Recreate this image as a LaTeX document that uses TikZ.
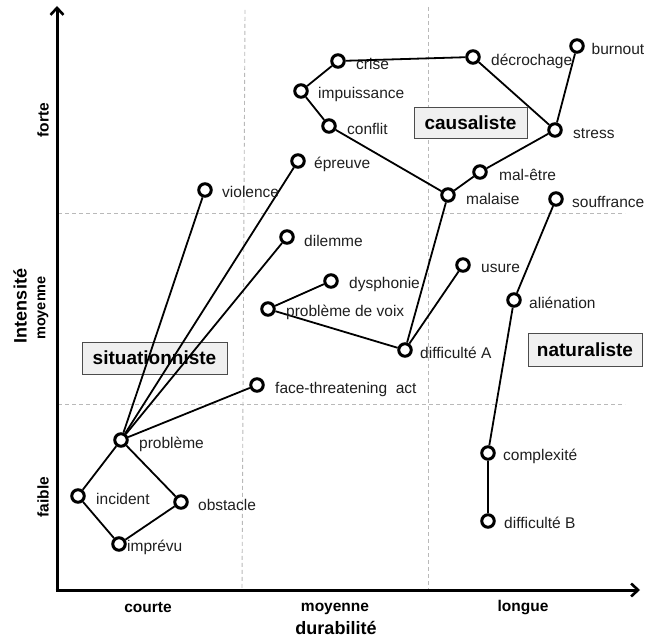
\documentclass[tikz,border=0pt]{standalone}
\usepackage{fontspec}
\setmainfont{Liberation Sans}
\usetikzlibrary{arrows.meta}
\tikzset{
  pt/.style={circle,draw=black,line width=3pt,minimum size=12.5pt,inner sep=0pt,fill=white},
  lbl/.style={anchor=west,inner sep=0pt,text=black!88,font=\fontsize{15.5}{17}\selectfont},
  edge/.style={line width=1.8pt,black},
  grid/.style={draw=gray!55,line width=0.9pt,dash pattern=on 4pt off 3pt},
  axis/.style={line width=3pt,-{Straight Barb[length=7pt,width=13pt,line width=2.6pt]}},
  cat/.style={draw=black!70,fill=gray!12,line width=0.9pt,font=\fontsize{19}{21}\selectfont\bfseries,inner sep=0pt},
  tick/.style={font=\fontsize{15.5}{17}\selectfont\bfseries,inner sep=0pt}
}
\begin{document}
\begin{tikzpicture}[x=1pt,y=-1pt]
\useasboundingbox (0,0) rectangle (645,639);
% grid
\draw[grid] (245,10) -- (242,590);
\draw[grid] (428,7) -- (428,590);
\draw[grid] (58,213) -- (625,213);
\draw[grid] (58,404) -- (625,404);
% axes
\coordinate (O) at (57,590);
\coordinate (Ytop) at (57,6);
\coordinate (Xend) at (640,590);
\draw[axis] ([yshift=-1.5pt]O) -- (Ytop);
\draw[axis] ([xshift=-1.5pt]O) -- (Xend);
% axis labels
\node[tick] (courte) at (148,608) {courte};
\node[tick] (moyx) at (335,609) {moyenne};
\node[tick] (longue) at (523,608) {longue};
\node[tick,font=\fontsize{18}{20}\selectfont\bfseries] (dura) at (336,628) {durabilité};
\node[tick,rotate=90,font=\fontsize{18}{20}\selectfont\bfseries] (inten) at (20,306) {Intensité};
\node[tick,rotate=90,font=\fontsize{14.5}{16}\selectfont\bfseries] (moyy) at (43,308) {moyenne};
\node[tick,rotate=90] (forte) at (43,120) {forte};
\node[tick,rotate=90] (faible) at (43,497) {faible};
% category boxes
\node[cat,minimum width=145pt,minimum height=32pt] (situ) at (154.5,358) {situationniste};
\node[cat,minimum width=113pt,minimum height=31pt] (caus) at (470.5,122.5) {causaliste};
\node[cat,minimum width=114pt,minimum height=33pt] (natu) at (585,349.5) {naturaliste};
% points
\node[pt] (violence) at (205,190) {};
\node[pt] (epreuve) at (298,161) {};
\node[pt] (impuissance) at (301,91) {};
\node[pt] (crise) at (338,61) {};
\node[pt] (conflit) at (329,126) {};
\node[pt] (decrochage) at (473,57) {};
\node[pt] (burnout) at (577,46) {};
\node[pt] (stress) at (555,130) {};
\node[pt] (maletre) at (480,172) {};
\node[pt] (malaise) at (448,195) {};
\node[pt] (souffrance) at (556,199) {};
\node[pt] (dilemme) at (287,237) {};
\node[pt] (dysphonie) at (331,281) {};
\node[pt] (usure) at (463,265) {};
\node[pt] (pvoix) at (268,309) {};
\node[pt] (alienation) at (514,300) {};
\node[pt] (diffA) at (405,350) {};
\node[pt] (fta) at (257,385) {};
\node[pt] (probleme) at (121,440) {};
\node[pt] (incident) at (78,496) {};
\node[pt] (obstacle) at (181,502) {};
\node[pt] (imprevu) at (119,544) {};
\node[pt] (complexite) at (488,453) {};
\node[pt] (diffB) at (488,521) {};
% edges
\foreach \a/\b in {probleme/violence,probleme/epreuve,probleme/dilemme,probleme/fta,
  probleme/incident,probleme/obstacle,incident/imprevu,obstacle/imprevu,
  crise/impuissance,impuissance/conflit,crise/decrochage,decrochage/stress,
  burnout/stress,stress/maletre,maletre/malaise,conflit/malaise,
  malaise/diffA,usure/diffA,pvoix/diffA,pvoix/dysphonie,
  souffrance/alienation,alienation/complexite,complexite/diffB}
  \draw[edge] (\a) -- (\b);
% labels
\node[lbl] (l-violence) at (222,192) {violence};
\node[lbl] (l-epreuve) at (314,164) {épreuve};
\node[lbl] (l-impuissance) at (318,94) {impuissance};
\node[lbl] (l-crise) at (356,64) {crise};
\node[lbl] (l-conflit) at (347,129) {conflit};
\node[lbl] (l-decrochage) at (491,61) {décrochage};
\node[lbl] (l-burnout) at (591.5,49) {burnout};
\node[lbl] (l-stress) at (573,134) {stress};
\node[lbl] (l-maletre) at (499,175) {mal-être};
\node[lbl] (l-malaise) at (466,199) {malaise};
\node[lbl] (l-souffrance) at (572,202) {souffrance};
\node[lbl] (l-dilemme) at (304,241) {dilemme};
\node[lbl] (l-dysphonie) at (349,284) {dysphonie};
\node[lbl] (l-usure) at (481,268) {usure};
\node[lbl] (l-pvoix) at (286,312) {problème de voix};
\node[lbl] (l-alienation) at (529,303) {aliénation};
\node[lbl] (l-diffA) at (420,353) {difficulté A};
\node[lbl] (l-fta) at (275,389) {face-threatening\ \ act};
\node[lbl] (l-probleme) at (139,444) {problème};
\node[lbl] (l-incident) at (96,499) {incident};
\node[lbl] (l-obstacle) at (198,505) {obstacle};
\node[lbl] (l-imprevu) at (127,547) {imprévu};
\node[lbl] (l-complexite) at (503,456) {complexité};
\node[lbl] (l-diffB) at (504,523) {difficulté B};
\end{tikzpicture}
\end{document}
